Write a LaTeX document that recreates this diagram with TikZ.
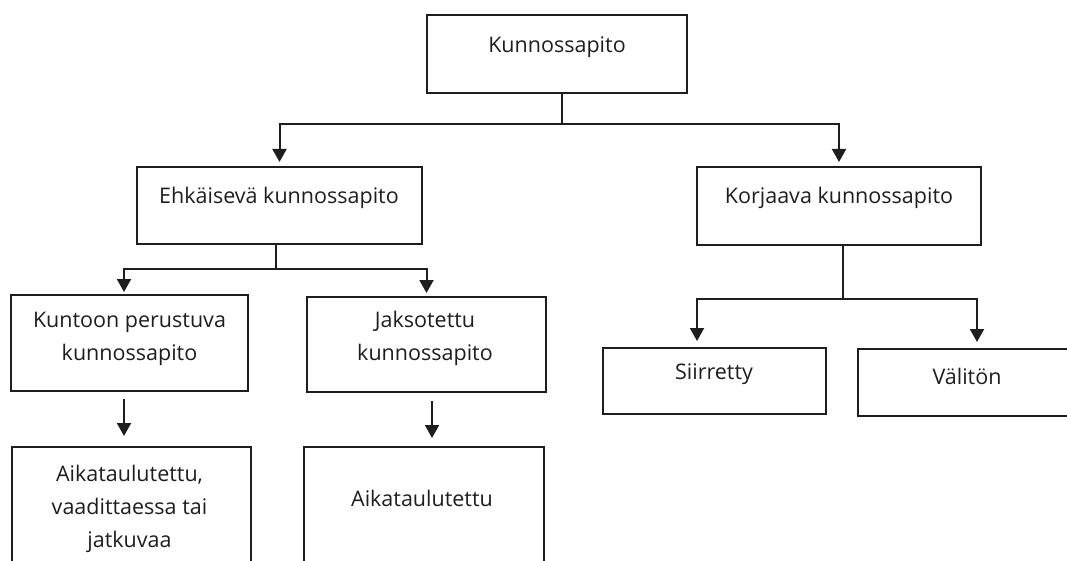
\documentclass[tikz,border=0pt]{standalone}
\usepackage{fontspec}
\setmainfont{Open Sans}
\usetikzlibrary{arrows.meta}
\definecolor{linecol}{HTML}{1E1E1E}
\definecolor{txtcol}{HTML}{1E1E1E}
\tikzset{
  box/.style={draw=linecol, line width=2pt, rectangle, inner sep=0pt},
  lbl/.style={text=txtcol, font=\fontsize{21.5}{33}\selectfont, align=center, inner sep=0pt},
  ln/.style={draw=linecol, line width=2pt},
  arr/.style={ln, -{Triangle[width=14pt,length=13pt]}, shorten >=#1},
  arr/.default=4pt
}
\begin{document}
\begin{tikzpicture}[x=1pt,y=-1pt]
 \useasboundingbox (0,0) rectangle (1067,561);
 \clip (0,0) rectangle (1067,561);
 % boxes
 \node[box, minimum width=260pt, minimum height=78pt] (kp) at (557,54) {};
 \node[box, minimum width=285pt, minimum height=77pt] (ek) at (279.5,205.5) {};
 \node[box, minimum width=284pt, minimum height=78pt] (kk) at (839,206) {};
 \node[box, minimum width=237pt, minimum height=96pt] (kt) at (129.5,343) {};
 \node[box, minimum width=239pt, minimum height=95pt] (jk) at (426.5,344.5) {};
 \node[box, minimum width=223pt, minimum height=66pt] (si) at (714.5,381) {};
 \node[box, minimum width=218pt, minimum height=67pt] (va) at (967,382.5) {};
 \node[box, minimum width=239pt, minimum height=153pt] (ak) at (131.5,523.5) {};
 \node[box, minimum width=240pt, minimum height=153pt] (aj) at (424,523.5) {};
 % texts
 \node[lbl] (kpt) at (557,47) {Kunnossapito};
 \node[lbl] (ekt) at (279,198) {Ehkäisevä kunnossapito};
 \node[lbl] (kkt) at (839,198) {Korjaava kunnossapito};
 \node[lbl] (ktt) at (129.5,338.5) {Kuntoon perustuva\\kunnossapito};
 \node[lbl] (jkt) at (425,338.5) {Jaksotettu\\kunnossapito};
 \node[lbl] (sit) at (714,374) {Siirretty};
 \node[lbl] (vat) at (967,376) {Välitön};
 \node[lbl] (akt) at (129.5,509) {Aikataulutettu,\\vaadittaessa tai\\jatkuvaa};
 \node[lbl] (ajt) at (422,498) {Aikataulutettu};
 % connectors
 \coordinate (kpj) at (562,124);
 \coordinate (ekj) at (276,269);
 \coordinate (kkj) at (843,299);
 \draw[ln] (kpj |- kp.south) -- (kpj);
 \draw[arr] (kpj) -| (ek.north);
 \draw[arr] (kpj) -| (kk.north);
 \draw[ln] (ekj |- ek.south) -- (ekj);
 \draw[arr=2pt] (ekj) -| ([xshift=-5.5pt]kt.north);
 \draw[arr=3pt] (ekj) -| (jk.north);
 \draw[ln] (kkj |- kk.south) -- (kkj);
 \draw[arr=6pt] (kkj) -| ([xshift=-17.5pt]si.north);
 \draw[arr=6pt] (kkj) -| ([xshift=10pt]va.north);
 \draw[arr=10pt, shorten <=7pt] ([xshift=-5.5pt]kt.south) -- ([xshift=-7.5pt]ak.north);
 \draw[arr=8pt, shorten <=8pt] ([xshift=5.5pt]jk.south) -- ([xshift=8pt]aj.north);
\end{tikzpicture}
\end{document}
